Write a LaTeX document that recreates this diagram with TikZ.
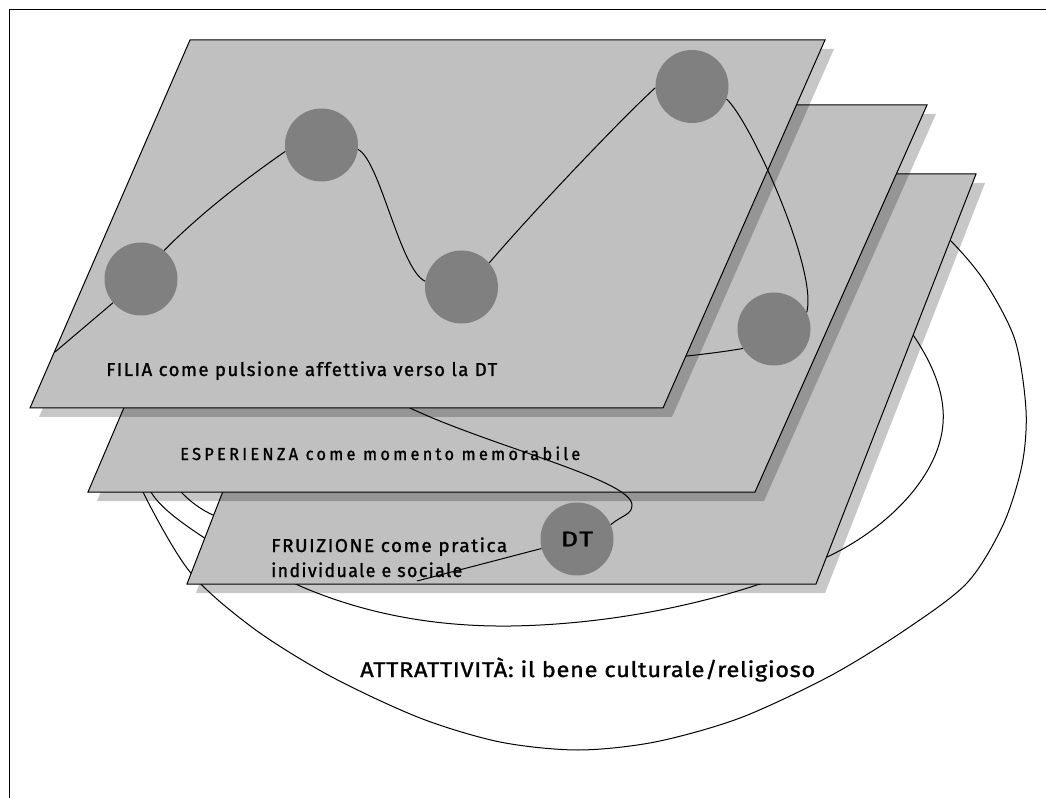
\documentclass[tikz,border=0pt]{standalone}
\usepackage{fontspec}
\usepackage{graphicx}
\setmainfont{Fira Sans}
\newfontfamily\lblfont{Fira Sans}[LetterSpace=8, FakeBold=1.2]
\newfontfamily\lblwide{Fira Sans}[LetterSpace=20, FakeBold=1.2]
\newfontfamily\lbltight{Fira Sans}[LetterSpace=3, FakeBold=1.2]
\definecolor{planegray}{HTML}{C0C0C0}
\definecolor{dotgray}{HTML}{808080}
% set a label to a given width (in px units of the picture)
\newcommand\fitbox[2]{\sbox0{#2}\pgfmathsetmacro\fitratio{#1*0.75/\the\wd0}\scalebox{\fitratio}[1]{\usebox0}}
\tikzset{
  plane/.style={fill=planegray, draw=black, line width=0.75pt, line join=miter},
  planeshadow/.style={fill=black, fill opacity=0.22, draw=none},
  dot/.style={circle, fill=dotgray, draw=none, minimum size=54.75pt, inner sep=0pt},
  link/.style={draw=black, line width=0.75pt},
  ring/.style={draw=black, line width=0.75pt},
  lbl/.style={anchor=base west, inner sep=0pt, font=\lblfont\fontsize{14}{16}\selectfont},
}
\begin{document}
\begin{tikzpicture}[x=0.75pt, y=-0.75pt]
\useasboundingbox (0,0) rectangle (1046,798);
% page frame
\draw[line width=0.75pt] (9,798) -- (9,10) -- (1046,10);

% rings of the attractiveness level (partly hidden behind the planes)
\draw[ring] plot[smooth, tension=0.5] coordinates {(125,440) (143,492) (190,572) (253,628)
  (330,676) (420,718) (500,742) (578,750) (655,742) (740,718) (830,676) (905,630)
  (967,583) (1003,525) (1022,465) (1026,410) (1015,340) (985,282) (950,240) (900,195)};
\draw[ring] (140,460) .. controls (143,475) and (146,484) .. (151,492)
  .. controls (160,508) and (185,525) .. (203,537)
  .. controls (225,552) and (265,570) .. (300,586)
  .. controls (360,612) and (430,627) .. (511,626)
  .. controls (640,624) and (760,590) .. (827,557)
  .. controls (885,530) and (943.3,475) .. (943.3,416.7)
  .. controls (943.3,370) and (908,328) .. (895,310);
\draw[ring] (160,455) .. controls (165,480) and (190,505) .. (213,515)
  .. controls (230,522) and (245,528) .. (265,535);

% FRUIZIONE plane
\fill[planeshadow, shift={(9,9)}] (346,174) -- (976,174) -- (816,584) -- (187,584) -- cycle;
\draw[plane] (346,174) -- (976,174) -- (816,584) -- (187,584) -- cycle;
% ESPERIENZA plane
\fill[planeshadow, shift={(9,9)}] (253,105) -- (927,105) -- (755,492) -- (88,492) -- cycle;
\draw[plane] (253,105) -- (927,105) -- (755,492) -- (88,492) -- cycle;

\node[dot] (c5) at (774,329) {};
\node[dot, font=\lblfont\fontsize{16}{18}\selectfont] (dt) at (577,539) {\raisebox{-2.2pt}{\fitbox{32}{DT}}};
\coordinate (e3) at (417,581);

% path running under the FILIA plane down to DT
\draw[link] (c5.212) .. controls (620,370) and (330,370) .. (410,408)
  .. controls (490,446) and (632,480) .. (632,505)
  .. controls (632,515) and (622,515) .. (dt.23);
\draw[link] (dt.195) -- (e3);

% FILIA plane
\fill[planeshadow, shift={(9,9)}] (190,40) -- (825,40) -- (663,408) -- (30,408) -- cycle;
\draw[plane] (190,40) -- (825,40) -- (663,408) -- (30,408) -- cycle;

\node[dot] (c1) at (141,279) {};
\node[dot] (c2) at (321.5,145) {};
\node[dot] (c3) at (461.5,287) {};
\node[dot] (c4) at (692,86.5) {};
\coordinate (s0) at (55,352);

\draw[link] (s0) -- (c1);
\draw[link] (c1.51) .. controls (204,210) and (250,176) .. (c2.190);
\draw[link] (c2.-7) .. controls (380,160) and (400,270) .. (c3.171);
\draw[link] (c3.41) .. controls (530,215) and (620,120) .. (c4.182);
\draw[link] (c4.-20) .. controls (750,120) and (818,270) .. (c5.27);

% level labels
\node[lbl] (filia) at (106,376) {\fitbox{391}{FILIA come pulsione affettiva verso la DT}};
\node[lbl, font=\lblwide\fontsize{13}{15}\selectfont] (esp) at (180,460) {\fitbox{400}{ESPERIENZA come momento memorabile}};
\node[lbl] (fru1) at (271,552) {\fitbox{236}{FRUIZIONE come pratica}};
\node[lbl] (fru2) at (271,577) {\fitbox{191}{individuale e sociale}};
\node[lbl, font=\lbltight\fontsize{16}{18}\selectfont] (attr) at (360,677) {\fitbox{455}{ATTRATTIVITÀ: il bene culturale/religioso}};
\end{tikzpicture}
\end{document}
